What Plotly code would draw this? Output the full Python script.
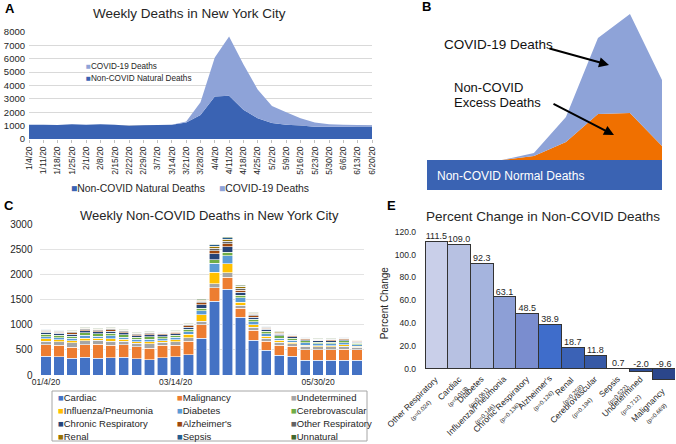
import plotly.graph_objects as go

W, H = 676, 444
def px(x): return x / W
def py(y): return 1 - y / H

FONT = "Liberation Sans"
TXT = "#262626"

# ---------------- Panel A data ----------------
weeks_a = ["1/4/20", "1/11/20", "1/18/20", "1/25/20", "2/1/20", "2/8/20", "2/15/20",
           "2/22/20", "2/29/20", "3/7/20", "3/14/20", "3/21/20", "3/28/20", "4/4/20",
           "4/11/20", "4/18/20", "4/25/20", "5/2/20", "5/9/20", "5/16/20", "5/23/20",
           "5/30/20", "6/6/20", "6/13/20", "6/20/20"]
noncovid_a = [1060, 1070, 1050, 1110, 1070, 1100, 1060, 990, 1030, 1040, 1065, 1240, 1800,
              3170, 3240, 2180, 1560, 1190, 1065, 1015, 915, 915, 915, 940, 940]
covid_a = [0, 0, 0, 0, 0, 0, 0, 0, 0, 0, 5, 70, 950, 2920, 4430, 3410, 2150, 1285, 935,
           545, 325, 195, 145, 100, 80]
COL_NONCOVID = "#3a63b3"
COL_COVID = "#8ea3d8"

# ---------------- Panel B data (schematic) ----------------
b_weeks = [2, 3, 4, 5, 6, 7]
b_normal = 1000
b_excess = [0, 133, 600, 1533, 1567, 467]
b_covid = [0, 100, 833, 2534, 3300, 2200]
COL_EXCESS = "#f07000"

# ---------------- Panel C data ----------------
c_ticks = ["01/4/20", "03/14/20", "05/30/20"]
c_tick_idx = [0, 10, 21]
c_categories = ["Cardiac", "Malignancy", "Undetermined", "Influenza/Pneumonia", "Diabetes",
                "Cerebrovascular", "Chronic Respiratory", "Alzheimer's", "Other Respiratory",
                "Renal", "Sepsis", "Unnatural"]
c_colors = ["#4472c4", "#ed7d31", "#a5a5a5", "#ffc000", "#5b9bd5", "#70ad47",
            "#264478", "#9e480e", "#636363", "#997300", "#255e91", "#43682b"]
cardiac = [370, 364, 331, 357, 331, 344, 357, 318, 305, 338, 364, 404, 728, 1470, 1700, 1145,
           688, 490, 390, 370, 290, 298, 298, 290, 298]
malignancy = [230, 226, 225, 243, 284, 246, 243, 244, 231, 252, 232, 266, 272, 265, 247, 185,
              199, 180, 206, 199, 213, 205, 205, 220, 205]
undetermined = [75, 70, 80, 85, 72, 85, 70, 68, 80, 60, 65, 75, 70, 80, 80, 60, 65, 60, 55, 55,
                65, 55, 55, 60, 50]
influenza = [45, 40, 45, 50, 40, 50, 40, 35, 40, 35, 40, 60, 125, 225, 180, 60, 45, 40, 35, 30,
             28, 25, 25, 28, 22]
diabetes = [45, 45, 45, 50, 45, 50, 45, 42, 50, 40, 45, 55, 80, 185, 165, 85, 60, 50, 45, 40,
            40, 35, 35, 40, 30]
cerebro = [45, 48, 48, 50, 45, 55, 45, 42, 50, 40, 42, 52, 55, 66, 70, 50, 55, 50, 45, 40, 40,
           35, 35, 40, 30]
chronic_resp = [35, 35, 38, 40, 38, 42, 35, 32, 40, 30, 35, 40, 70, 120, 110, 60, 40, 35, 30,
                25, 25, 23, 25, 25, 20]
alzheimers = [25, 24, 25, 25, 23, 25, 23, 22, 25, 22, 22, 25, 35, 60, 60, 40, 30, 25, 22, 20,
              20, 18, 18, 18, 16]
other_resp = [18, 18, 18, 18, 17, 18, 17, 15, 17, 15, 17, 18, 30, 50, 50, 35, 25, 20, 15, 13,
              14, 12, 12, 13, 11]
renal = [12, 12, 12, 12, 12, 13, 12, 11, 12, 11, 12, 12, 22, 40, 40, 30, 15, 13, 12, 10, 10, 9,
         10, 10, 9]
sepsis = [8, 8, 8, 8, 8, 8, 8, 8, 8, 7, 8, 8, 12, 25, 25, 17, 10, 9, 8, 7, 7, 6, 6, 7, 6]
unnatural = [10, 10, 10, 10, 10, 10, 10, 10, 10, 10, 10, 10, 12, 15, 15, 12, 10, 10, 9, 9, 9, 8,
             8, 8, 8]
c_series = [cardiac, malignancy, undetermined, influenza, diabetes, cerebro, chronic_resp,
            alzheimers, other_resp, renal, sepsis, unnatural]

# ---------------- Panel E data ----------------
e_categories = ["Other Respiratory", "Cardiac", "Diabetes", "Influenza/Pneumonia",
                "Chronic Respiratory", "Alzheimer's", "Renal", "Cerebrovascular", "Sepsis",
                "Undetermined", "Malignancy"]
e_pvalues = ["0.024", "0.019", "0.061", "0.146", "0.136", "0.126", "0.258", "0.194", "0.522",
             "0.712", "0.669"]
e_values = [111.5, 109.0, 92.3, 63.1, 48.5, 38.9, 18.7, 11.8, 0.7, -2.0, -9.6]
e_colors = ["#c9cfe9", "#b7c1e2", "#a5b4de", "#8d9fd6", "#7a8dcf", "#3f6dcb", "#3b62b6",
            "#3759a6", "#3455a0", "#2e4e98", "#2b468b"]

fig = go.Figure()

# ---- Panel A traces ----
xa = list(range(len(weeks_a)))
fig.add_trace(go.Scatter(x=xa, y=noncovid_a, stackgroup="a", mode="none",
                         fillcolor=COL_NONCOVID, xaxis="x", yaxis="y", hoverinfo="y"))
fig.add_trace(go.Scatter(x=xa, y=covid_a, stackgroup="a", mode="none",
                         fillcolor=COL_COVID, xaxis="x", yaxis="y", hoverinfo="y"))

# ---- Panel B traces ----
fig.add_trace(go.Scatter(x=b_weeks, y=[b_normal] * len(b_weeks), stackgroup="b", mode="none",
                         fillcolor="rgba(0,0,0,0)", xaxis="x2", yaxis="y2", hoverinfo="skip"))
fig.add_trace(go.Scatter(x=b_weeks, y=b_excess, stackgroup="b", mode="none",
                         fillcolor=COL_EXCESS, xaxis="x2", yaxis="y2"))
fig.add_trace(go.Scatter(x=b_weeks, y=b_covid, stackgroup="b", mode="none",
                         fillcolor=COL_COVID, xaxis="x2", yaxis="y2"))

# ---- Panel C traces ----
xc = list(range(len(cardiac)))
for name, col, vals in zip(c_categories, c_colors, c_series):
    fig.add_trace(go.Bar(x=xc, y=vals, name=name,
                         marker=dict(color=col, line=dict(color="white", width=0.6)),
                         width=0.8, xaxis="x3", yaxis="y3"))

# ---- Panel E traces ----
xe = list(range(len(e_values)))
fig.add_trace(go.Bar(x=xe, y=e_values,
                     marker=dict(color=e_colors, line=dict(color="#333333", width=1)),
                     width=1.0, xaxis="x4", yaxis="y4"))
fig.add_trace(go.Scatter(x=xe, y=[max(v, 0) for v in e_values], mode="text",
                         text=[f"{v:.1f}" for v in e_values], textposition="top center",
                         textfont=dict(size=9, color=TXT, family=FONT), xaxis="x4", yaxis="y4",
                         cliponaxis=False))

E_X0, E_X1 = 425, 675
fig.update_layout(
    width=W, height=H, margin=dict(l=0, r=0, t=0, b=0, autoexpand=False),
    paper_bgcolor="white", plot_bgcolor="rgba(0,0,0,0)",
    showlegend=False, barmode="stack",
    font=dict(family=FONT, color=TXT),
    # Panel A
    xaxis=dict(domain=[px(29), px(372)], range=[0, 24], tickmode="array", tickvals=xa,
               ticktext=weeks_a, tickangle=-90, tickfont=dict(size=8.5), showgrid=False,
               zeroline=False, ticks="outside", ticklen=3, tickcolor="#bfbfbf", showline=False,
               anchor="y", automargin=False),
    yaxis=dict(domain=[py(139), py(32)], range=[0, 8000], dtick=1000, showgrid=True,
               gridcolor="#d9d9d9", zeroline=False, tickfont=dict(size=9.5),
               ticklabelstandoff=3, anchor="x", automargin=False),
    # Panel B
    xaxis2=dict(domain=[px(427), px(662)], range=[-0.34, 7], visible=False, anchor="y2",
                automargin=False),
    yaxis2=dict(domain=[py(190), py(10)], range=[0, 6000], visible=False, anchor="x2",
                automargin=False),
    # Panel C
    xaxis3=dict(domain=[px(39.5), px(363.5)], range=[-0.5, 24.5], tickmode="array",
                tickvals=c_tick_idx, ticktext=c_ticks, tickfont=dict(size=8.5), showgrid=False,
                zeroline=False, ticks="", anchor="y3", automargin=False),
    yaxis3=dict(domain=[py(375), py(224)], range=[0, 3000], dtick=500, showgrid=True,
                gridcolor="#e3e3e3", zeroline=False, tickfont=dict(size=10),
                ticklabelstandoff=6, anchor="x3", automargin=False),
    # Panel E
    xaxis4=dict(domain=[px(E_X0), px(E_X1)], range=[-0.5, 10.5], showticklabels=False,
                showgrid=False, zeroline=False, ticks="", anchor="y4", automargin=False),
    yaxis4=dict(domain=[py(380.4), py(226)], range=[-10, 125], tickmode="array",
                tickvals=[0, 20, 40, 60, 80, 100, 120], tickformat=".1f", showgrid=False,
                zeroline=False, tickfont=dict(size=8.5), ticklabelstandoff=8, anchor="x4",
                automargin=False,
                title=dict(text="Percent Change", font=dict(size=10), standoff=4)),
)

# Normal deaths band in panel B (height from b_normal)
fig.add_shape(type="rect", xref="x2 domain", yref="y2", x0=0, x1=1, y0=0, y1=b_normal,
              fillcolor=COL_NONCOVID, line=dict(width=0), layer="above")

ann = []
def label(x, y, text, size, **kw):
    d = dict(x=px(x), y=py(y), xref="paper", yref="paper", text=text, showarrow=False,
             font=dict(size=size, family=FONT, color=kw.pop("color", TXT)),
             xanchor=kw.pop("xanchor", "center"), yanchor=kw.pop("yanchor", "middle"))
    d.update(kw)
    ann.append(d)

# Panel letters
label(3, 8, "<b>A</b>", 13, xanchor="left", color="black")
label(420, 7, "<b>B</b>", 13, xanchor="left", color="black")
label(2, 206, "<b>C</b>", 13, xanchor="left", color="black")
label(385, 206, "<b>E</b>", 13, xanchor="left", color="black")

# Titles
label(189, 13, "Weekly Deaths in New York City", 13.5)
label(209, 215, "Weekly Non-COVID Deaths in New York City", 13)
label(543, 216, "Percent Change in Non-COVID Deaths", 13.5)

# Panel A inner labels
label(84, 66, f"<span style='color:{COL_COVID}'>■</span>COVID-19 Deaths", 8.2, xanchor="left")
label(84, 79, f"<span style='color:{COL_NONCOVID}'>■</span>Non-COVID Natural Deaths", 8.2,
      xanchor="left")
# Panel A bottom legend
label(69, 188, f"<span style='color:{COL_NONCOVID}'>■</span>Non-COVID Natural Deaths", 10.4,
      xanchor="left")
label(217, 188, f"<span style='color:{COL_COVID}'>■</span>COVID-19 Deaths", 10.4, xanchor="left")

# Panel B texts and arrows
label(442, 45, "COVID-19 Deaths", 13.5, xanchor="left", color="#111111")
label(452, 88, "Non-COVID", 13, xanchor="left", color="#111111")
label(452, 102, "Excess Deaths", 13, xanchor="left", color="#111111")
label(435, 176, "Non-COVID Normal Deaths", 12, xanchor="left", color="white")
ann.append(dict(x=px(609), y=py(65), xref="paper", yref="paper", ax=-61, ay=-17, text="",
                showarrow=True, arrowhead=2, arrowsize=1, arrowwidth=2, arrowcolor="black"))
ann.append(dict(x=px(614), y=py(135), xref="paper", yref="paper", ax=-62, ay=-32, text="",
                showarrow=True, arrowhead=2, arrowsize=1, arrowwidth=2, arrowcolor="black"))

# Panel E category labels (rotated, two lines)
step = (E_X1 - E_X0) / len(e_categories)
for i, (n, p) in enumerate(zip(e_categories, e_pvalues)):
    cx = E_X0 + step * (i + 0.5)
    top = 383 if e_values[i] < -5 else 371
    label(cx + 14, top, f"{n}<br><span style='font-size:6px'>(p={p})</span>", 8.5,
          xanchor="right", yanchor="top", textangle=-45, align="center")

# Panel C legend
cols_x = [56, 175, 289]
rows_y = [397, 410, 423, 436]
for i, (name, col) in enumerate(zip(c_categories, c_colors)):
    r, c = divmod(i, 3)
    label(cols_x[c], rows_y[r], f"<span style='color:{col}'>■</span>{name}", 9.5, xanchor="left")

fig.update_layout(annotations=ann)
fig.add_shape(type="rect", xref="paper", yref="paper", x0=px(52), x1=px(367), y0=py(441),
              y1=py(391), line=dict(color="#a6a6a6", width=1), fillcolor="rgba(0,0,0,0)")

fig.write_html("out.html", config={"displayModeBar": False},
               post_script="document.body.style.margin='0';document.body.style.padding='0';"
                           "document.body.style.overflow='hidden';")
